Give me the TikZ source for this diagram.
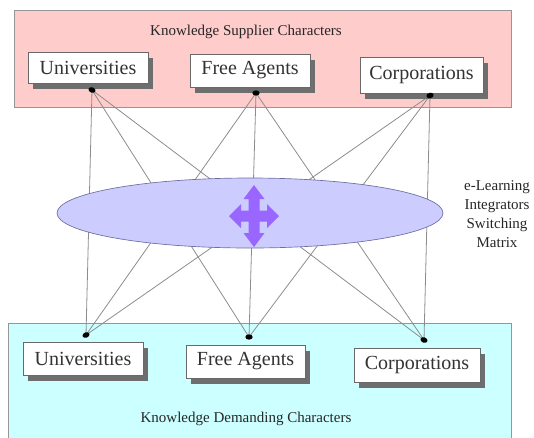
\documentclass[tikz,border=0pt]{standalone}
\usepackage{fontspec}
\setmainfont{Liberation Serif}
\usetikzlibrary{shapes.geometric,shadows}
\pgfdeclarelayer{bg}
\pgfdeclarelayer{links}
\pgfsetlayers{bg,links,main}
\definecolor{supplypink}{RGB}{255,204,204}
\definecolor{demandcyan}{RGB}{204,255,255}
\definecolor{matrixfill}{RGB}{204,204,255}
\definecolor{matrixedge}{RGB}{110,110,160}
\definecolor{crossviolet}{RGB}{153,102,255}
\definecolor{paneledge}{RGB}{150,150,150}
\definecolor{linkgray}{RGB}{140,140,140}
\definecolor{shadowgray}{RGB}{110,110,110}
\begin{document}
\begin{tikzpicture}[x=0.75pt,y=-0.75pt,
  panel/.style={draw=paneledge, line width=0.6pt, inner sep=0pt},
  charbox/.style={draw=paneledge!70!black, fill=white, line width=0.5pt, inner sep=0pt,
    font=\fontsize{15}{18}\selectfont, text=black!80,
    drop shadow={shadow xshift=4pt, shadow yshift=-4.5pt, fill=shadowgray, opacity=1}},
  caption/.style={font=\fontsize{11.25}{14.25}\selectfont, text=black!85, align=center},
  joint/.style={ellipse, fill=black, inner sep=0pt, minimum width=5.5pt, minimum height=4pt},
  link/.style={draw=linkgray, line width=0.6pt}
]
\useasboundingbox (0,0) rectangle (534,437);

% the two character panels
\begin{pgfonlayer}{bg}
  \node[panel, fill=supplypink, minimum width=372.75pt, minimum height=72.75pt] (supply) at (262.5,58.5) {};
  \node[panel, fill=demandcyan, minimum width=377.25pt, minimum height=87.75pt] (demand) at (259.5,381.5) {};
\end{pgfonlayer}

\node[caption] (supplytitle) at (246,32) {Knowledge Supplier Characters};
\node[caption] (demandtitle) at (246,419) {Knowledge Demanding Characters};

% supplier boxes
\node[charbox, minimum width=90pt, minimum height=23.25pt] (su) at (88,67.5) {Universities};
\node[charbox, minimum width=90pt, minimum height=24.75pt] (sf) at (250,70.5) {Free Agents};
\node[charbox, minimum width=92.25pt, minimum height=27pt] (sc) at (421.5,75) {Corporations};

% demanding boxes
\node[charbox, minimum width=90pt, minimum height=24.75pt] (du) at (83,358.5) {Universities};
\node[charbox, minimum width=89.25pt, minimum height=24.75pt] (df) at (245.5,361.5) {Free Agents};
\node[charbox, minimum width=94.5pt, minimum height=25.5pt] (dc) at (417,365) {Corporations};

% connection joints
\node[joint, rotate=-20] (ju) at (92,90) {};
\node[joint] (jf) at (256,93) {};
\node[joint, rotate=15] (jc) at (430,95.5) {};
\node[joint, rotate=20] (ku) at (86,335) {};
\node[joint] (kf) at (249,337) {};
\node[joint, rotate=-20] (kc) at (424,340) {};

% every supplier joint reaches every demanding joint
\begin{pgfonlayer}{links}
  \foreach \s in {ju,jf,jc}
    \foreach \d in {ku,kf,kc}
      \draw[link] (\s.center) -- (\d.center);
\end{pgfonlayer}

% switching matrix
\node[ellipse, draw=matrixedge, line width=0.5pt, fill=matrixfill, inner sep=0pt,
      minimum width=289.5pt, minimum height=52.5pt] (matrix) at (250,213) {};

% four-way arrow
\begin{scope}[shift={(254,216)}]
  \fill[crossviolet] (0,-31) -- (10.5,-17) -- (5.5,-17) -- (5.5,-5.5) -- (13,-5.5) -- (13,-12)
    -- (25,0) -- (13,12) -- (13,5.5) -- (5.5,5.5) -- (5.5,17) -- (10.5,17) -- (0,31)
    -- (-10.5,17) -- (-5.5,17) -- (-5.5,5.5) -- (-13,5.5) -- (-13,12) -- (-25,0)
    -- (-13,-12) -- (-13,-5.5) -- (-5.5,-5.5) -- (-5.5,-17) -- (-10.5,-17) -- cycle;
\end{scope}

\node[caption] (matrixlabel) at (497,214) {e-Learning\\Integrators\\Switching\\Matrix};

\end{tikzpicture}
\end{document}
